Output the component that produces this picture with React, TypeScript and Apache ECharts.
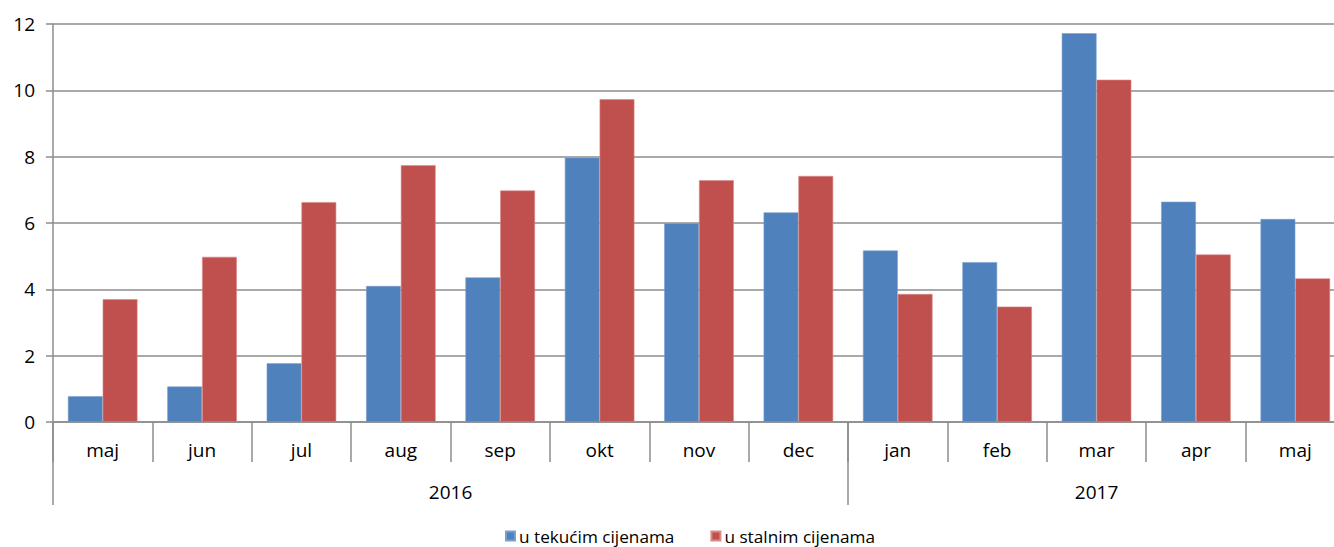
import React, { useEffect, useRef } from "react";
import * as echarts from "echarts";

const months = ["maj", "jun", "jul", "aug", "sep", "okt", "nov", "dec", "jan", "feb", "mar", "apr", "maj"];
const yearSlots = ["", "", "", "", "", "", "", "", "2016", "", "", "", "", "", "", "", "", "", "", "", "", "2017", "", "", "", "", ""];
const yearLabelIdx = [8, 21];
const yearTickIdx = [0, 16, 26];
const tekucim = [0.78, 1.07, 1.77, 4.1, 4.36, 7.97, 5.99, 6.32, 5.17, 4.82, 11.72, 6.64, 6.12];
const stalnim = [3.7, 4.98, 6.63, 7.74, 6.98, 9.73, 7.29, 7.42, 3.86, 3.48, 10.32, 5.05, 4.33];
const seriesNames = ["u tekućim cijenama", "u stalnim cijenama"];

const FONT = "'Open Sans', sans-serif";
const GRAY = "#8c8c8c";

export default function App() {
  const ref = useRef<HTMLDivElement>(null);
  useEffect(() => {
    if (!ref.current) return;
    const chart = echarts.init(ref.current, null, { renderer: "svg" });
    chart.setOption({
      animation: false,
      textStyle: { fontFamily: FONT },
      grid: { left: 53, top: 24, right: 0, bottom: 125, containLabel: false },
      legend: {
        top: 527,
        left: 505,
        padding: 0,
        itemWidth: 9,
        itemHeight: 9,
        itemGap: 36,
        icon: "rect",
        textStyle: { fontFamily: FONT, fontSize: 17.2, lineHeight: 18, color: "#000", padding: [0, 0, 0, -1] },
        data: seriesNames,
      },
      xAxis: [
        {
          type: "category",
          data: months,
          position: "bottom",
          axisLine: { show: true, lineStyle: { color: GRAY, width: 1.5 } },
          axisTick: { show: true, length: 40, interval: 0, lineStyle: { color: GRAY, width: 1.5 } },
          axisLabel: { interval: 0, margin: 18, fontSize: 19, color: "#000", fontFamily: FONT },
        },
        {
          type: "category",
          data: yearSlots,
          position: "bottom",
          boundaryGap: false,
          axisLine: { show: false },
          axisTick: {
            show: true,
            length: 83,
            interval: (i: number) => yearTickIdx.includes(i),
            lineStyle: { color: GRAY, width: 1.5 },
          },
          axisLabel: {
            interval: (i: number) => yearLabelIdx.includes(i),
            margin: 60,
            fontSize: 19,
            color: "#000",
            fontFamily: FONT,
          },
        },
      ],
      yAxis: {
        type: "value",
        min: 0,
        max: 12,
        interval: 2,
        axisLine: { show: true, lineStyle: { color: GRAY, width: 1.5 } },
        axisTick: { show: true, length: 7, lineStyle: { color: GRAY, width: 1.5 } },
        axisLabel: { margin: 18, fontSize: 19, color: "#000", fontFamily: FONT },
        splitLine: { show: true, lineStyle: { color: GRAY, width: 1.5 } },
      },
      series: [
        {
          name: seriesNames[0],
          type: "bar",
          data: tekucim,
          barGap: "0%",
          barCategoryGap: "30%",
          itemStyle: { color: "#4F81BD", borderColor: "#7aa0d0", borderWidth: 0.6 },
        },
        {
          name: seriesNames[1],
          type: "bar",
          data: stalnim,
          barGap: "0%",
          barCategoryGap: "30%",
          itemStyle: { color: "#C0504D", borderColor: "#d98a88", borderWidth: 0.6 },
        },
      ],
    });
    return () => chart.dispose();
  }, []);
  return (
    <div style={{ position: "fixed", left: 0, top: 0, width: 1334, height: 547, overflow: "hidden", background: "#fff" }}>
      <div ref={ref} style={{ position: "absolute", left: 0, top: 0, width: 1345, height: 547 }} />
    </div>
  );
}
